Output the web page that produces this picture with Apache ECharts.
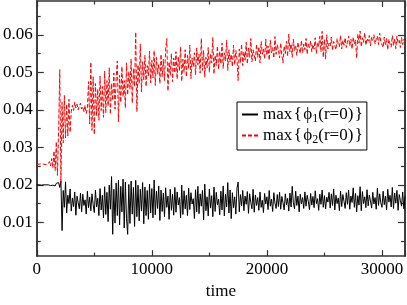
<!DOCTYPE html>
<html>
<head>
<meta charset="utf-8">
<script src="https://cdn.jsdelivr.net/npm/echarts@6/dist/echarts.min.js"></script>
<style>html,body{margin:0;padding:0;background:#fff}#c{width:407px;height:305px}</style>
</head>
<body>
<div id="c"></div>
<script>
// time samples (every 100 time units, 0..32000)
const times = Array.from({length: 321}, (_, i) => i * 100);
const yTickLabels = [0.01, 0.02, 0.03, 0.04, 0.05, 0.06];
const yMinorTicks = [0.005, 0.015, 0.025, 0.035, 0.045, 0.055, 0.065];

// max{phi1(r=0)}
const phi1 = [
  0.0200,0.0200,0.0200,0.0200,0.0199,0.0200,0.0200,0.0201,0.0200,0.0199,
  0.0200,0.0201,0.0198,0.0202,0.0199,0.0203,0.0197,0.0204,0.0199,0.0206,
  0.0193,0.0210,0.0078,0.0185,0.0140,0.0208,0.0125,0.0172,0.0150,0.0189,
  0.0130,0.0165,0.0142,0.0181,0.0119,0.0170,0.0152,0.0136,0.0178,0.0128,
  0.0175,0.0145,0.0160,0.0122,0.0183,0.0139,0.0167,0.0131,0.0176,0.0148,
  0.0126,0.0186,0.0141,0.0164,0.0118,0.0190,0.0133,0.0172,0.0112,0.0195,
  0.0121,0.0180,0.0102,0.0199,0.0135,0.0222,0.0068,0.0188,0.0098,0.0205,
  0.0118,0.0212,0.0093,0.0196,0.0128,0.0215,0.0085,0.0207,0.0110,0.0068,
  0.0201,0.0097,0.0210,0.0122,0.0193,0.0089,0.0212,0.0115,0.0199,0.0104,
  0.0188,0.0130,0.0206,0.0096,0.0194,0.0118,0.0185,0.0108,0.0202,0.0125,
  0.0190,0.0112,0.0213,0.0120,0.0183,0.0137,0.0197,0.0105,0.0186,0.0129,
  0.0178,0.0115,0.0192,0.0140,0.0170,0.0108,0.0188,0.0132,0.0175,0.0119,
  0.0193,0.0127,0.0181,0.0146,0.0166,0.0112,0.0199,0.0121,0.0184,0.0136,
  0.0172,0.0118,0.0191,0.0134,0.0179,0.0149,0.0163,0.0110,0.0187,0.0128,
  0.0196,0.0123,0.0176,0.0143,0.0185,0.0106,0.0202,0.0131,0.0168,0.0117,
  0.0189,0.0138,0.0171,0.0115,0.0194,0.0129,0.0180,0.0146,0.0162,0.0120,
  0.0183,0.0133,0.0197,0.0117,0.0175,0.0141,0.0206,0.0125,0.0186,0.0110,
  0.0179,0.0139,0.0168,0.0122,0.0191,0.0207,0.0128,0.0174,0.0144,0.0185,
  0.0131,0.0170,0.0148,0.0182,0.0124,0.0176,0.0153,0.0136,0.0188,0.0127,
  0.0173,0.0145,0.0166,0.0132,0.0181,0.0140,0.0159,0.0126,0.0177,0.0149,
  0.0168,0.0134,0.0185,0.0143,0.0162,0.0129,0.0179,0.0151,0.0137,0.0174,
  0.0142,0.0180,0.0135,0.0169,0.0152,0.0133,0.0176,0.0147,0.0164,0.0130,
  0.0178,0.0141,0.0196,0.0152,0.0136,0.0183,0.0145,0.0170,0.0128,0.0175,
  0.0149,0.0166,0.0137,0.0181,0.0143,0.0172,0.0155,0.0134,0.0177,0.0146,
  0.0169,0.0139,0.0184,0.0150,0.0163,0.0132,0.0175,0.0148,0.0186,0.0140,
  0.0171,0.0136,0.0167,0.0154,0.0180,0.0138,0.0176,0.0145,0.0189,0.0133,
  0.0172,0.0150,0.0165,0.0131,0.0183,0.0142,0.0174,0.0156,0.0137,0.0179,
  0.0148,0.0186,0.0135,0.0170,0.0153,0.0192,0.0140,0.0177,0.0128,0.0171,
  0.0146,0.0195,0.0131,0.0182,0.0150,0.0168,0.0139,0.0187,0.0144,0.0173,
  0.0157,0.0138,0.0180,0.0149,0.0166,0.0135,0.0191,0.0145,0.0176,0.0152,
  0.0140,0.0183,0.0147,0.0170,0.0133,0.0188,0.0154,0.0172,0.0141,0.0193,
  0.0137,0.0178,0.0151,0.0185,0.0132,0.0174,0.0158,0.0143,0.0181,0.0136,
  0.0169
];

// max{phi2(r=0)}
const phi2 = [
  0.0255,0.0256,0.0255,0.0254,0.0256,0.0257,0.0255,0.0256,0.0254,0.0257,
  0.0256,0.0262,0.0250,0.0270,0.0245,0.0290,0.0238,0.0315,0.0225,0.0345,
  0.0507,0.0205,0.0420,0.0312,0.0438,0.0325,0.0415,0.0330,0.0428,0.0340,
  0.0395,0.0412,0.0398,0.0420,0.0405,0.0415,0.0400,0.0410,0.0418,0.0402,
  0.0408,0.0395,0.0412,0.0390,0.0405,0.0475,0.0362,0.0527,0.0345,0.0488,
  0.0334,0.0470,0.0385,0.0455,0.0372,0.0490,0.0398,0.0462,0.0380,0.0503,
  0.0392,0.0478,0.0410,0.0512,0.0388,0.0470,0.0425,0.0498,0.0402,0.0485,
  0.0530,0.0368,0.0492,0.0420,0.0515,0.0435,0.0478,0.0405,0.0525,0.0440,
  0.0502,0.0455,0.0535,0.0418,0.0510,0.0462,0.0607,0.0395,0.0520,0.0470,
  0.0575,0.0448,0.0528,0.0480,0.0545,0.0462,0.0518,0.0490,0.0556,0.0472,
  0.0532,0.0485,0.0558,0.0465,0.0540,0.0495,0.0522,0.0470,0.0548,0.0488,
  0.0535,0.0478,0.0562,0.0590,0.0450,0.0528,0.0492,0.0550,0.0475,0.0538,
  0.0498,0.0555,0.0482,0.0542,0.0505,0.0568,0.0476,0.0535,0.0500,0.0560,
  0.0488,0.0545,0.0510,0.0572,0.0483,0.0538,0.0515,0.0552,0.0493,0.0565,
  0.0520,0.0548,0.0498,0.0590,0.0505,0.0558,0.0487,0.0540,0.0512,0.0566,
  0.0500,0.0550,0.0525,0.0593,0.0495,0.0545,0.0518,0.0570,0.0508,0.0556,
  0.0522,0.0578,0.0510,0.0552,0.0530,0.0585,0.0505,0.0560,0.0528,0.0548,
  0.0515,0.0572,0.0520,0.0558,0.0535,0.0478,0.0562,0.0525,0.0575,0.0518,
  0.0555,0.0532,0.0580,0.0522,0.0565,0.0540,0.0590,0.0528,0.0560,0.0545,
  0.0530,0.0575,0.0540,0.0568,0.0525,0.0582,0.0548,0.0562,0.0535,0.0588,
  0.0545,0.0570,0.0532,0.0585,0.0552,0.0566,0.0538,0.0595,0.0548,0.0574,
  0.0560,0.0538,0.0578,0.0545,0.0525,0.0570,0.0550,0.0583,0.0542,0.0602,
  0.0555,0.0576,0.0540,0.0588,0.0558,0.0572,0.0545,0.0580,0.0562,0.0550,
  0.0585,0.0552,0.0575,0.0560,0.0590,0.0548,0.0578,0.0566,0.0584,0.0555,
  0.0574,0.0562,0.0592,0.0550,0.0580,0.0568,0.0596,0.0555,0.0609,0.0540,
  0.0588,0.0535,0.0600,0.0562,0.0578,0.0570,0.0594,0.0558,0.0582,0.0572,
  0.0560,0.0590,0.0575,0.0568,0.0598,0.0562,0.0585,0.0572,0.0592,0.0566,
  0.0580,0.0596,0.0570,0.0588,0.0562,0.0594,0.0575,0.0586,0.0538,0.0602,
  0.0578,0.0610,0.0568,0.0592,0.0580,0.0605,0.0572,0.0590,0.0583,0.0598,
  0.0570,0.0593,0.0585,0.0600,0.0575,0.0589,0.0596,0.0574,0.0604,0.0582,
  0.0581,0.0566,0.0594,0.0572,0.0590,0.0560,0.0588,0.0575,0.0567,0.0598,
  0.0572,0.0590,0.0563,0.0596,0.0578,0.0585,0.0566,0.0593,0.0574,0.0588,
  0.0580
];

const FONT = '"Liberation Serif", "DejaVu Serif", serif';
const AXC = '#333';
const yMin = 0.001, yMax = 0.069;

function yAx(pos, custom, len, labels) {
  return {
    type: 'value', position: pos, min: yMin, max: yMax,
    axisLine: {show: true, lineStyle: {color: AXC, width: 1.5}},
    axisTick: {show: true, inside: true, length: len, customValues: custom, lineStyle: {color: AXC, width: 1.2}},
    axisLabel: labels ? {show: true, customValues: custom, margin: 4, color: '#000', fontFamily: FONT, fontSize: 17,
      formatter: v => v.toFixed(2)} : {show: false},
    splitLine: {show: false}
  };
}
function xAx(pos, labels) {
  return {
    type: 'value', position: pos, min: 0, max: 32000, interval: 10000,
    name: labels ? 'time' : '', nameLocation: 'middle', nameGap: 22,
    nameTextStyle: {color: '#000', fontFamily: FONT, fontSize: 17},
    axisLine: {show: true, lineStyle: {color: AXC, width: 1.5}},
    axisTick: {show: true, inside: true, length: 6, lineStyle: {color: AXC, width: 1.2}},
    minorTick: {show: true, splitNumber: 2, length: 3.5, lineStyle: {color: AXC, width: 1.2}},
    axisLabel: labels ? {show: true, margin: 5, color: '#000', fontFamily: FONT, fontSize: 17,
      showMaxLabel: false, formatter: v => String(v)} : {show: false},
    splitLine: {show: false}, minorSplitLine: {show: false}
  };
}

const chart = echarts.init(document.getElementById('c'), null, {renderer: 'canvas'});
const rich = {s: {fontSize: 12, fontFamily: FONT, color: '#000', verticalAlign: 'bottom', padding: [9, 0, 0, 0]}};
chart.setOption({
  animation: false,
  backgroundColor: '#fff',
  grid: {left: 36, right: 2, top: 1, bottom: 35, containLabel: false},
  xAxis: [xAx('bottom', true), xAx('top', false)],
  yAxis: [yAx('left', yTickLabels, 7, true), yAx('left', yMinorTicks, 4, false),
          yAx('right', yTickLabels, 7, false), yAx('right', yMinorTicks, 4, false)],
  legend: {
    orient: 'vertical', left: 237, top: 102,
    backgroundColor: '#fff', borderColor: '#000', borderWidth: 1, borderRadius: 0,
    padding: [4, 4, 4, 4], itemGap: 2, itemWidth: 16, itemHeight: 1,
    textStyle: {fontFamily: FONT, fontSize: 17, color: '#000', rich: rich},
    formatter: n => n === 'phi1' ? 'max\u200a{\u200aϕ{s|1}(r=0)\u200a}' : 'max\u200a{\u200aϕ{s|2}(r=0)\u200a}',
    data: ['phi1', 'phi2']
  },
  series: [
    {name: 'phi1', type: 'line', showSymbol: false, symbol: 'none',
      data: times.map((t, i) => [t, phi1[i]]),
      lineStyle: {color: '#000', width: 1}, itemStyle: {color: '#000'}},
    {name: 'phi2', type: 'line', showSymbol: false, symbol: 'none',
      data: times.map((t, i) => [t, phi2[i]]),
      lineStyle: {color: '#ff0000', width: 1, type: [4, 2]}, itemStyle: {color: '#ff0000'}}
  ]
});
</script>
</body>
</html>
